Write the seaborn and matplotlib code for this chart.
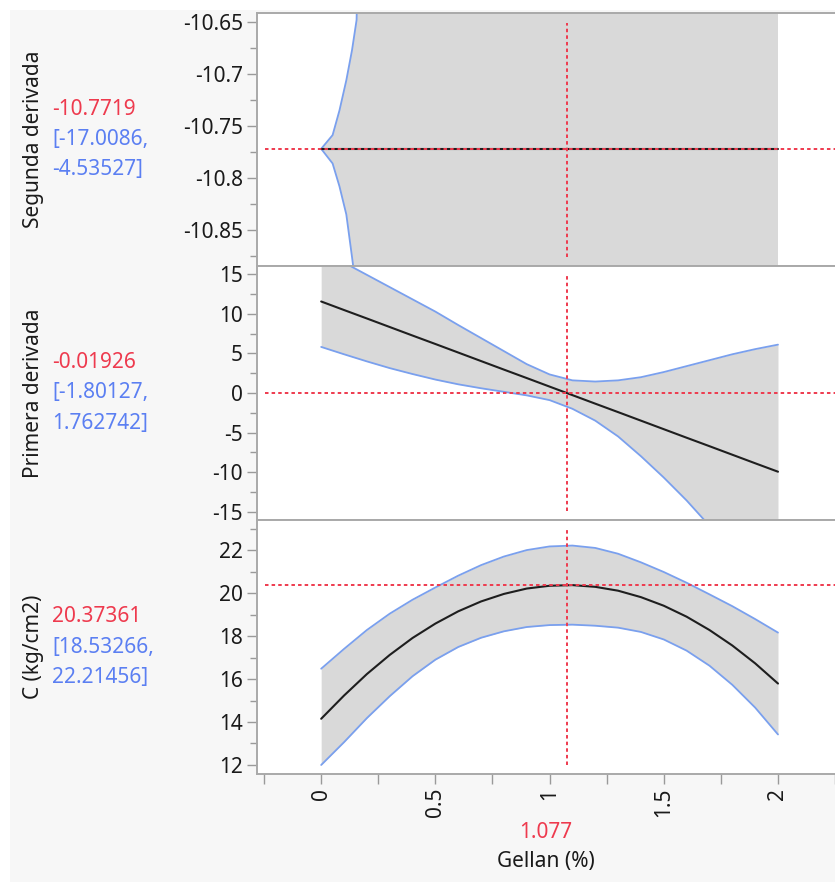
import numpy as np
import pandas as pd
import matplotlib
matplotlib.use("Agg")
import matplotlib.pyplot as plt
import seaborn as sns
from matplotlib.ticker import MultipleLocator, FuncFormatter
from matplotlib.patches import Rectangle

# ---------------- data ----------------
x_grid = [0.0, 0.1, 0.2, 0.3, 0.4, 0.5, 0.6, 0.7, 0.8, 0.9, 1.0,
          1.1, 1.2, 1.3, 1.4, 1.5, 1.6, 1.7, 1.8, 1.9, 2.0]

# C (kg/cm2) profile
c_mean = [14.15, 15.23, 16.23, 17.12, 17.91, 18.58, 19.15, 19.61, 19.96, 20.21, 20.34,
          20.37, 20.29, 20.11, 19.81, 19.41, 18.90, 18.28, 17.56, 16.73, 15.79]
c_upper = [16.48, 17.40, 18.28, 19.04, 19.69, 20.26, 20.81, 21.30, 21.70, 22.00, 22.17,
           22.21, 22.10, 21.83, 21.43, 20.98, 20.48, 19.94, 19.39, 18.79, 18.16]
c_lower = [12.00, 13.06, 14.18, 15.20, 16.13, 16.90, 17.49, 17.92, 18.22, 18.42, 18.51,
           18.53, 18.48, 18.39, 18.19, 17.84, 17.32, 16.62, 15.73, 14.67, 13.42]

# Primera derivada profile
d1_mean = [11.58, 10.50, 9.43, 8.35, 7.27, 6.20, 5.12, 4.04, 2.96, 1.89, 0.81,
           -0.27, -1.35, -2.42, -3.50, -4.58, -5.66, -6.73, -7.81, -8.89, -9.96]
d1_upper = [17.9, 16.5, 14.95, 13.4, 11.85, 10.3, 8.6, 6.95, 5.3, 3.65, 2.35,
            1.6, 1.45, 1.6, 2.0, 2.65, 3.4, 4.15, 4.9, 5.55, 6.12]
d1_lower = [5.83, 4.9, 4.0, 3.15, 2.4, 1.7, 1.1, 0.6, 0.15, -0.3, -0.9,
            -2.0, -3.5, -5.5, -8.0, -10.7, -13.6, -16.8, -20.0, -23.0, -26.0]

# Segunda derivada profile
d2_x = [0.0, 2.0]
d2_mean = [-10.7719, -10.7719]
d2_band_x = [0.0, 0.05, 0.08, 0.11, 0.135, 0.155, 0.3, 1.077, 2.0]
d2_upper = [-10.7719, -10.7587, -10.735, -10.706, -10.677, -10.648, -9.0, -4.53527, -4.0]
d2_lower = [-10.7719, -10.786, -10.808, -10.835, -10.876, -10.91, -12.0, -17.0086, -17.5]

x_current = 1.077
x_label = "Gellan (%)"
row_labels = ["Segunda derivada", "Primera derivada", "C (kg/cm2)"]
row_values = ["-10.7719", "-0.01926", "20.37361"]
row_ci_lo = ["[-17.0086,", "[-1.80127,", "[18.53266,"]
row_ci_hi = ["-4.53527]", "1.762742]", "22.21456]"]
row_current = [-10.7719, -0.01926, 20.37361]

x_ticks = [0, 0.5, 1, 1.5, 2]
x_tick_labels = ["0", "0.5", "1", "1.5", "2"]

# ---------------- style ----------------
sns.set_theme(style="white")
plt.rcParams["font.family"] = ["Noto Sans", "DejaVu Sans"]
plt.rcParams["axes.unicode_minus"] = False

W, H = 835, 882
fig = plt.figure(figsize=(W / 100, H / 100), dpi=100, facecolor="#f7f7f7")
fig.patches.append(Rectangle((0, 1 - 10 / H), 1, 10 / H, transform=fig.transFigure,
                             facecolor="white", edgecolor="none", zorder=0))
fig.patches.append(Rectangle((0, 0), 10 / W, 1, transform=fig.transFigure,
                             facecolor="white", edgecolor="none", zorder=0))

def fx(px):
    return px / W

def fy(py):
    return 1 - py / H

left_px, right_px = 257, 836
panels_px = [(13, 266), (266, 520), (520, 774)]

RED = "#ee3a4e"
BLUE = "#5b7ff2"
BAND_LINE = "#7aa0ee"
FILL = "#d9d9d9"
SPINE = "#a9a9a9"
FS = 15
xlim = (-0.281, 2.254)

ylims = [(-10.8846, -10.6413), (-16.07, 16.07), (11.58, 23.40)]
majors = [0.05, 5, 2]
minors = [0.025, 2.5, 1]

axes = []
for i, (t, b) in enumerate(panels_px):
    ax = fig.add_axes([fx(left_px), fy(b), fx(right_px) - fx(left_px), (b - t) / H])
    ax.set_facecolor("white")
    axes.append(ax)

datasets = [
    (d2_x, d2_mean, d2_band_x, d2_upper, d2_lower),
    (x_grid, d1_mean, x_grid, d1_upper, d1_lower),
    (x_grid, c_mean, x_grid, c_upper, c_lower),
]

for i, ax in enumerate(axes):
    mx, my, bx, bu, bl = datasets[i]
    ax.fill_between(bx, bl, bu, color=FILL, linewidth=0, zorder=1)
    sns.lineplot(x=bx, y=bu, ax=ax, color=BAND_LINE, linewidth=1.3, estimator=None,
                 sort=False, zorder=2)
    sns.lineplot(x=bx, y=bl, ax=ax, color=BAND_LINE, linewidth=1.3, estimator=None,
                 sort=False, zorder=2)
    sns.lineplot(x=mx, y=my, ax=ax, color="#1e1e1e", linewidth=1.5, estimator=None,
                 sort=False, zorder=3)
    ax.set_xlim(*xlim)
    ax.set_ylim(*ylims[i])
    # crosshairs
    ax.axvline(x_current, ymin=0.035, ymax=0.96, color=RED, lw=1.4,
               linestyle=(0, (1.8, 1.6)), zorder=4)
    ax.axhline(row_current[i], xmin=0.013, xmax=1.0, color=RED, lw=1.4,
               linestyle=(0, (1.8, 1.6)), zorder=4)

    for s in ax.spines.values():
        s.set_color(SPINE)
        s.set_linewidth(1.4)
    ax.yaxis.set_major_locator(MultipleLocator(majors[i]))
    ax.yaxis.set_minor_locator(MultipleLocator(minors[i]))
    ax.yaxis.set_major_formatter(FuncFormatter(lambda v, p: f"{v:g}"))
    ax.tick_params(axis="y", which="major", left=True, length=7, width=1,
                   color="#9a9a9a", labelsize=FS, labelcolor="#1a1a1a", pad=3)
    ax.tick_params(axis="y", which="minor", left=True, length=5, width=1, color="#9a9a9a")
    ax.set_xlabel("")
    ax.set_ylabel("")
    if i < 2:
        ax.set_xticks([])
        ax.tick_params(axis="x", which="both", bottom=False, labelbottom=False)

axb = axes[2]
axb.set_xticks(x_ticks)
axb.set_xticklabels(x_tick_labels, rotation=90)
axb.xaxis.set_minor_locator(MultipleLocator(0.25))
axb.tick_params(axis="x", which="major", bottom=True, length=7, width=1,
                color="#9a9a9a", labelsize=FS, labelcolor="#1a1a1a", pad=3)
axb.tick_params(axis="x", which="minor", bottom=True, length=7, width=1, color="#9a9a9a")

# left texts
for i, (t, b) in enumerate(panels_px):
    cy = (t + b) / 2
    fig.text(fx(34), fy(cy), row_labels[i], rotation=90, ha="center", va="center",
             fontsize=FS, color="#1a1a1a")
    fig.text(fx(52), fy(cy - 30), row_values[i], ha="left", va="center",
             fontsize=FS, color=RED)
    fig.text(fx(52), fy(cy), row_ci_lo[i], ha="left", va="center",
             fontsize=FS, color=BLUE)
    fig.text(fx(52), fy(cy + 30), row_ci_hi[i], ha="left", va="center",
             fontsize=FS, color=BLUE)

cx = (left_px + 835) / 2
fig.text(fx(cx), fy(832), f"{x_current:g}", ha="center", va="center", fontsize=FS, color=RED)
fig.text(fx(cx), fy(862), x_label, ha="center", va="center", fontsize=FS, color="#1a1a1a")

fig.savefig("out.png", dpi=100, facecolor=fig.get_facecolor())
